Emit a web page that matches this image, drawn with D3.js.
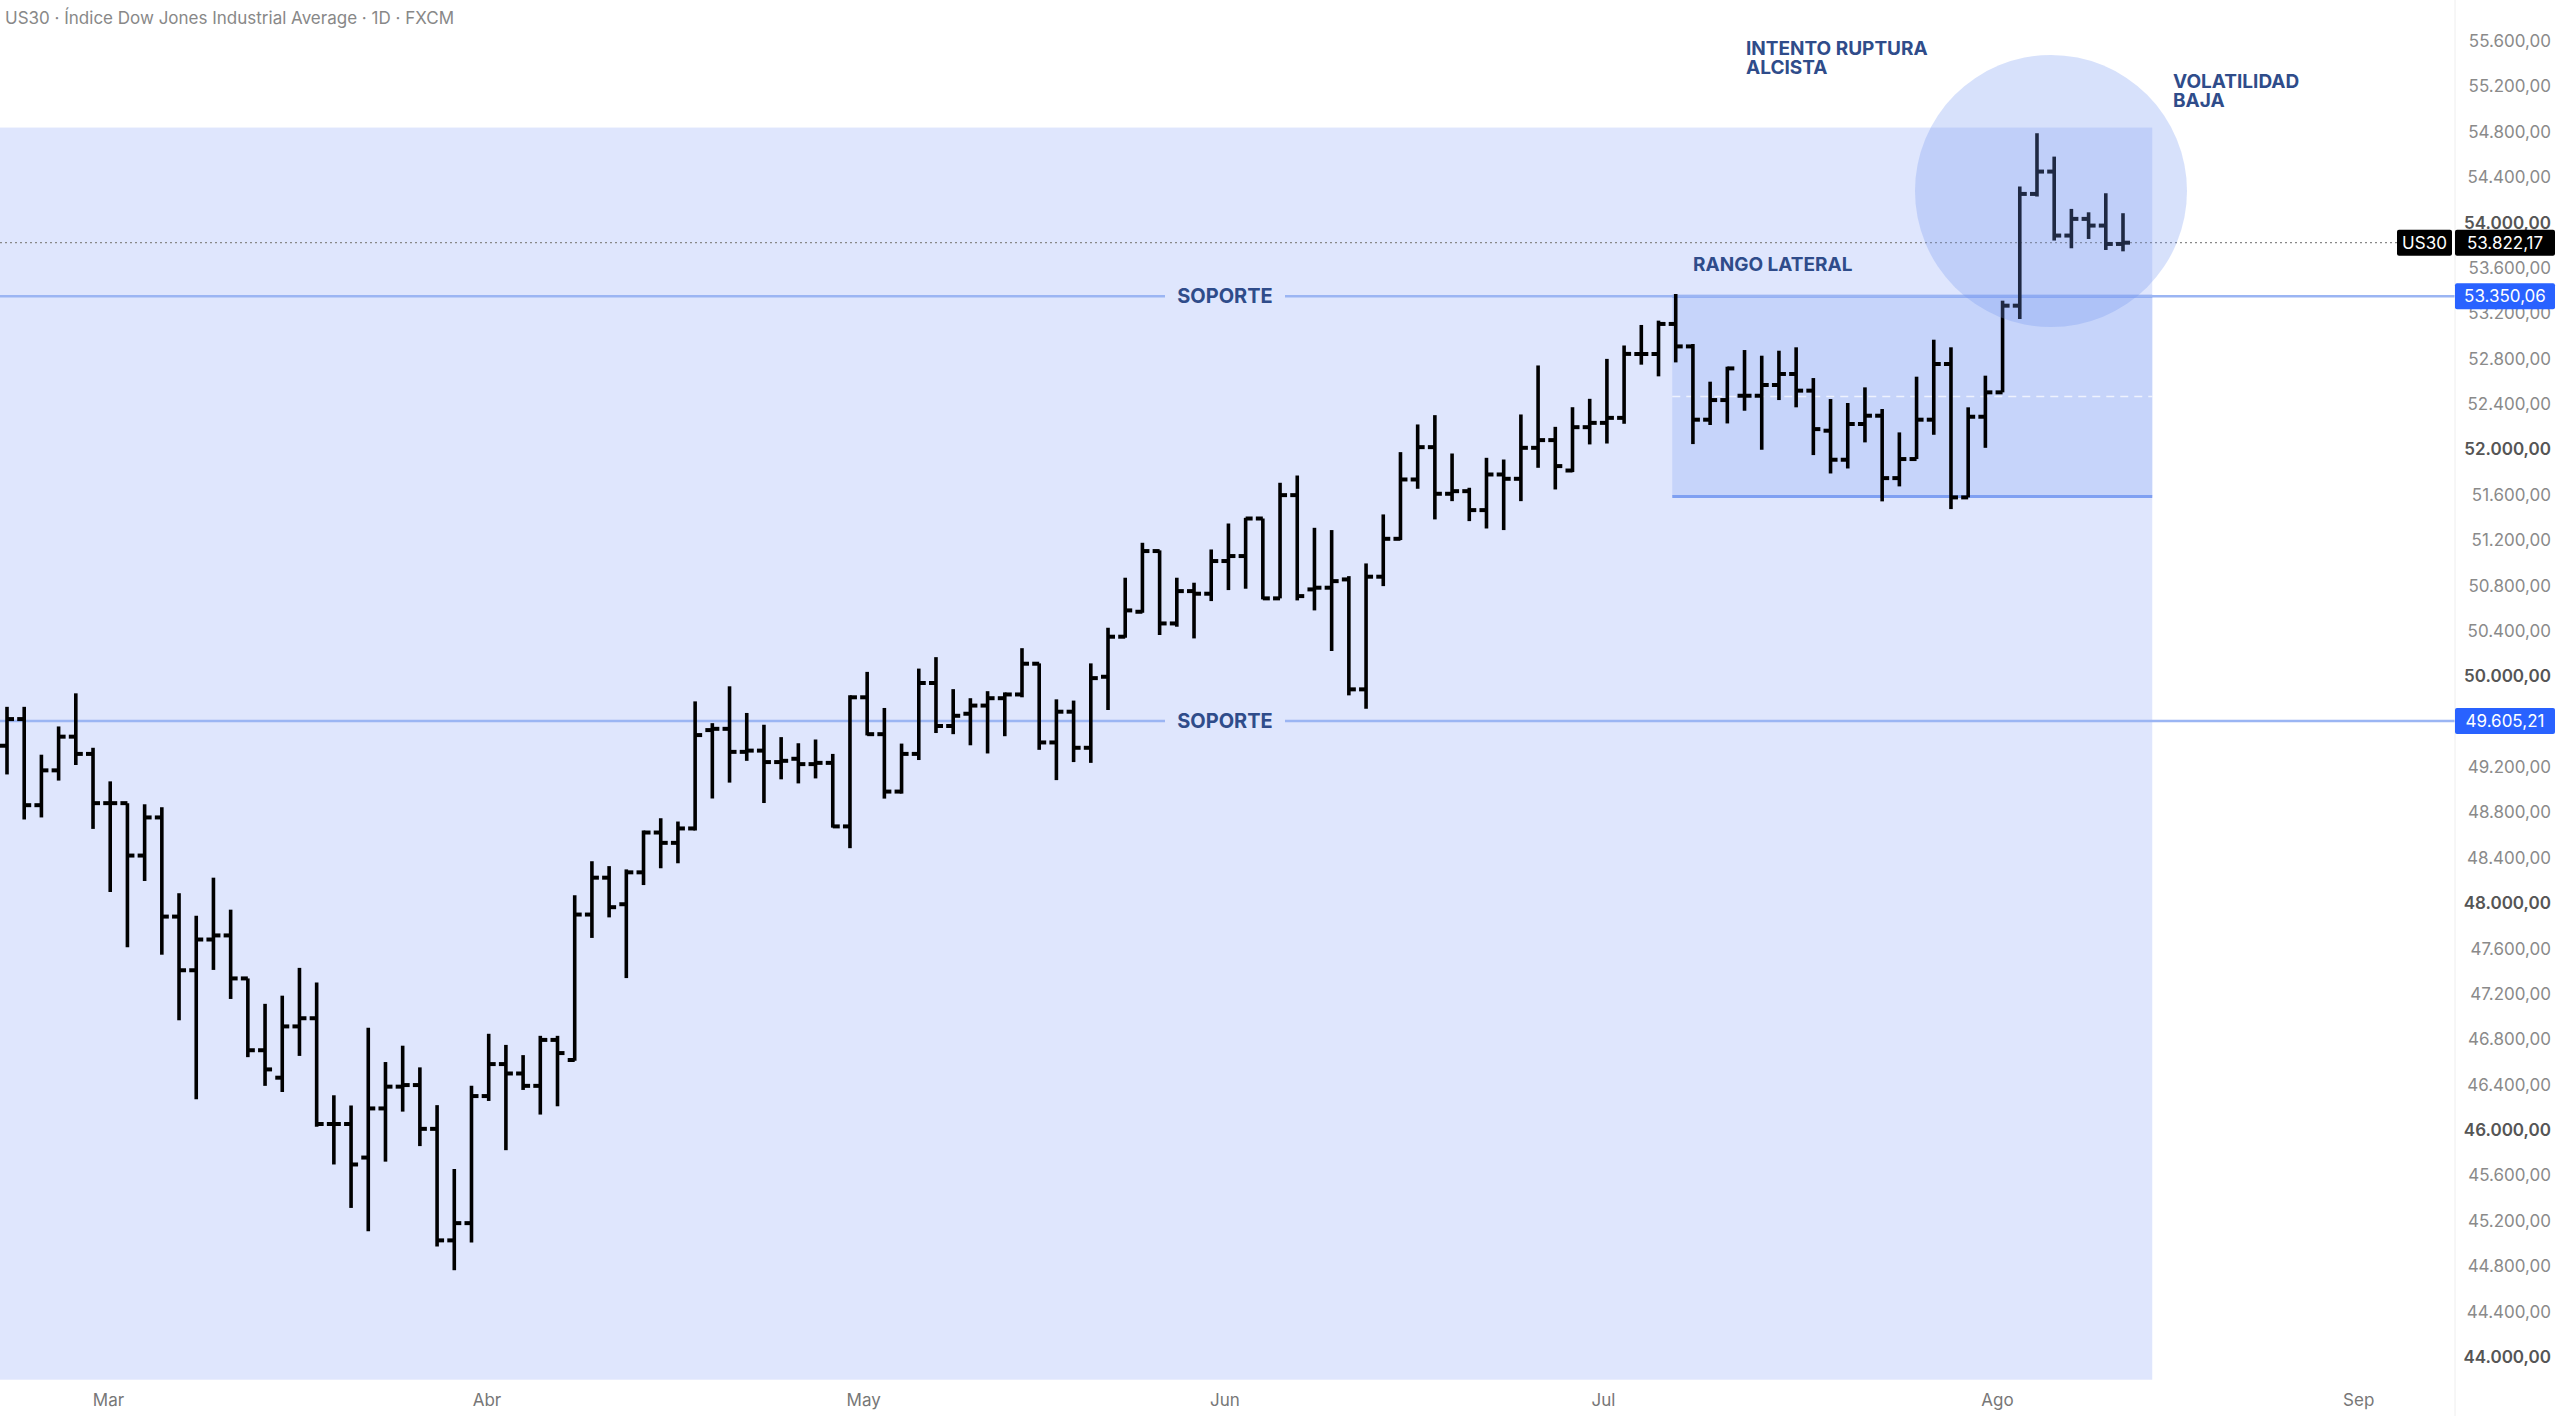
<!DOCTYPE html>
<html><head><meta charset="utf-8">
<script src="https://cdn.jsdelivr.net/npm/d3@7"></script>
<style>body{margin:0;background:#fff;font-family:Inter,"Noto Sans",sans-serif}</style>
</head><body><div id="chart"></div>
<script>
const opens = [49388,49623,48864,49171,49468,49316,48882,48882,48420,48756,47882,47409,47680,47716,47337,46704,46462,46914,46986,46054,46054,45758,46191,46383,46397,46011,45028,45180,46300,46582,46499,46390,46795,
46618,47900,48225,47991,48272,48623,48532,48659,49526,49537,49334,49345,49244,49273,49226,49237,48677,49815,49490,48984,49316,49941,49562,49670,49742,49807,49840,50111,49417,49688,49370,
49996,50349,50569,51104,50466,50751,50728,51016,51060,51391,50687,51597,50766,50781,50854,49885,50878,51212,51735,52020,51609,51632,51465,51779,51741,52014,52082,51814,52196,52234,52278,
52841,52841,53106,52908,52262,52435,52473,52473,52568,52665,52518,52165,51909,52224,52297,51747,51915,52262,52753,51577,52288,52503,53267,54252,54449,53885,54032,53973,53811];
const highs = [49731,49731,49309,49558,49850,49370,49074,48882,48872,48846,48088,47889,48225,47943,47337,47113,47185,47430,47300,46307,46217,46903,46600,46744,46553,46220,45657,46390,46849,46751,46661,46831,46831,
48070,48370,48327,48298,48641,48749,48720,49779,49587,49912,49677,49573,49464,49410,49443,49316,49833,50039,49721,49407,50068,50169,49887,49807,49869,49858,50248,50114,49797,49786,50114,
50428,50869,51177,51110,50869,50825,51118,51347,51397,51391,51706,51770,51309,51289,50883,50995,51427,51976,52220,52302,51964,51662,51926,51911,52308,52740,52199,52372,52446,52798,52916,
53097,53135,53370,52929,52597,52729,52876,52826,52870,52900,52629,52444,52409,52547,52356,52150,52641,52967,52900,52371,52650,53311,54317,54787,54581,54120,54090,54258,54082];
const lows = [49135,48738,48756,49081,49218,48655,48099,47611,48196,47546,46968,46271,47412,47156,46643,46390,46336,46654,46029,45697,45314,45108,45722,46163,45859,44974,44765,45010,46257,45823,46354,46137,46210,
46611,47694,47875,47340,48160,48308,48352,48641,48923,49063,49255,48883,49092,49056,49100,48666,48485,49479,48922,48966,49262,49500,49490,49392,49320,49472,49815,49352,49085,49244,49237,
49703,50340,50560,50364,50437,50334,50663,50760,50772,50678,50687,50669,50581,50223,49832,49714,50795,51201,51653,51383,51544,51368,51303,51289,51544,51838,51647,51800,52044,52052,52226,
52747,52644,52767,52047,52215,52229,52341,51997,52435,52371,51950,51788,51832,52062,51542,51674,51915,52129,51474,51577,52014,52503,53150,54229,53841,53773,53855,53758,53746];
const closes = [49623,48864,49171,49468,49316,48882,48882,48420,48756,47882,47409,47680,47716,47337,46704,46535,46914,46986,46054,46054,45697,46191,46383,46397,46011,45028,45180,46300,46582,46499,46390,46795,46679,
47900,48225,47965,48272,48623,48532,48659,49482,49537,49334,49345,49244,49255,49226,49237,48677,49815,49490,48984,49316,49941,49562,49652,49742,49807,49840,50111,49417,49688,49370,49984,
50349,50581,51104,50466,50751,50728,51016,51060,51391,50687,51597,50707,50781,50839,49885,50878,51212,51735,52020,51609,51632,51465,51779,51741,52014,52082,51853,52196,52234,52278,52842,
52841,53106,52908,52262,52435,52714,52473,52568,52665,52518,52179,51909,52224,52297,51747,51915,52262,52753,51577,52288,52503,53267,54252,54449,53885,54032,53973,53811,53822.17];
const months = ["Mar","Abr","May","Jun","Jul","Ago","Sep"];
const monthIndex = [5.9,27.9,49.8,70.8,92.8,115.7,136.7];
const priceTicks = d3.range(44000, 55601, 400);
const supports = [53350.06, 49605.21];
const lastPrice = 53822.17;

const W = 2560, H = 1416, axisX = 2455;
const x = d3.scaleLinear().domain([0, 123]).range([7, 2123]);
const y = d3.scaleLinear().domain([44000, 55600]).range([1357, 41]);
const fmt = v => d3.format(",.2f")(v).replace(/,/g, "#").replace(".", ",").replace(/#/g, ".");
const blue = "#2f4c8a";

const svg = d3.select("#chart").append("svg").attr("width", W).attr("height", H);

// zones
svg.append("rect").attr("x", 0).attr("width", x(124.7)).attr("y", y(54837)).attr("height", y(43800) - y(54837)).attr("fill", "#dfe6fd");
svg.append("rect").attr("x", x(96.8)).attr("width", x(124.7) - x(96.8)).attr("y", y(53350)).attr("height", y(51585) - y(53350)).attr("fill", "#c6d4fa");
[53350, 51585].forEach(v => svg.append("line").attr("x1", x(96.8)).attr("x2", x(124.7)).attr("y1", y(v)).attr("y2", y(v)).attr("stroke", "#7fa0f2").attr("stroke-width", 3));
svg.append("line").attr("x1", x(96.8)).attr("x2", x(124.7)).attr("y1", y(52467)).attr("y2", y(52467)).attr("stroke", "#fff").attr("stroke-opacity", 0.7).attr("stroke-dasharray", "8,6").attr("stroke-width", 1.5);

// support lines
supports.forEach(v => {
  svg.append("line").attr("x1", 0).attr("x2", axisX).attr("y1", y(v)).attr("y2", y(v)).attr("stroke", "#9bb5f3").attr("stroke-width", 2.5);
  svg.append("rect").attr("x", 1165).attr("width", 120).attr("y", y(v) - 14).attr("height", 28).attr("fill", "#dfe6fd");
  svg.append("text").attr("x", 1225).attr("y", y(v) + 7).attr("text-anchor", "middle").attr("font-size", 20).attr("font-weight", 700).attr("fill", blue).text("SOPORTE");
});

// last price dotted line
svg.append("line").attr("x1", 0).attr("x2", axisX).attr("y1", y(lastPrice)).attr("y2", y(lastPrice)).attr("stroke", "#888").attr("stroke-dasharray", "2,3").attr("stroke-width", 1.2);

// bars
const idx = d3.range(opens.length);
const g = svg.append("g").attr("stroke", "#000").attr("stroke-width", 3.6);
g.selectAll(".hl").data(idx).join("line").attr("x1", i => x(i)).attr("x2", i => x(i)).attr("y1", i => y(highs[i])).attr("y2", i => y(lows[i]));
g.selectAll(".o").data(idx).join("line").attr("x1", i => x(i) - 7).attr("x2", i => x(i)).attr("y1", i => y(opens[i])).attr("y2", i => y(opens[i])).attr("stroke-width", 4);
g.selectAll(".c").data(idx).join("line").attr("x1", i => x(i)).attr("x2", i => x(i) + 7).attr("y1", i => y(closes[i])).attr("y2", i => y(closes[i])).attr("stroke-width", 4);

// volatility circle
svg.append("circle").attr("cx", 2051).attr("cy", 191).attr("r", 136).attr("fill", "#6f93f0").attr("fill-opacity", 0.28);

// annotations
const note = (lines, px, py) => lines.forEach((t, k) => svg.append("text").attr("x", px).attr("y", py + k * 19).attr("font-size", 19).attr("font-weight", 700).attr("fill", blue).text(t));
note(["INTENTO RUPTURA", "ALCISTA"], 1746, 55);
note(["VOLATILIDAD", "BAJA"], 2173, 88);
note(["RANGO LATERAL"], 1693, 271);

// title
svg.append("text").attr("x", 5).attr("y", 24).attr("font-size", 17).attr("fill", "#888").text("US30 · Índice Dow Jones Industrial Average · 1D · FXCM");

// right axis (labels hidden where a price tag sits on top)
const tagged = supports.concat([lastPrice]);
svg.append("line").attr("x1", axisX).attr("x2", axisX).attr("y1", 0).attr("y2", H).attr("stroke", "#eee");
svg.append("g").selectAll("text").data(priceTicks.filter(d => tagged.every(t => Math.abs(y(d) - y(t)) > 16))).join("text")
  .attr("x", 2551).attr("y", d => y(d) + 6).attr("text-anchor", "end").attr("font-size", 17)
  .attr("fill", d => d % 2000 === 0 ? "#555" : "#8a8a8a").attr("font-weight", d => d % 2000 === 0 ? 600 : 400)
  .text(d => fmt(d));

// price labels
const tag = (v, fill, bx, bw, label) => {
  svg.append("rect").attr("x", bx).attr("y", y(v) - 13).attr("width", bw).attr("height", 26).attr("rx", 2).attr("fill", fill);
  svg.append("text").attr("x", bx + bw / 2).attr("y", y(v) + 6).attr("text-anchor", "middle").attr("font-size", 17).attr("fill", "#fff").text(label);
};
tag(lastPrice, "#000", 2397, 55, "US30");
tag(lastPrice, "#000", 2455, 100, fmt(lastPrice));
supports.forEach(v => tag(v, "#2962ff", 2455, 100, fmt(v)));

// bottom axis
svg.append("g").selectAll("text").data(months).join("text")
  .attr("x", (d, i) => x(monthIndex[i])).attr("y", 1406).attr("text-anchor", "middle").attr("font-size", 17).attr("fill", "#777").text(d => d);
</script></body></html>
